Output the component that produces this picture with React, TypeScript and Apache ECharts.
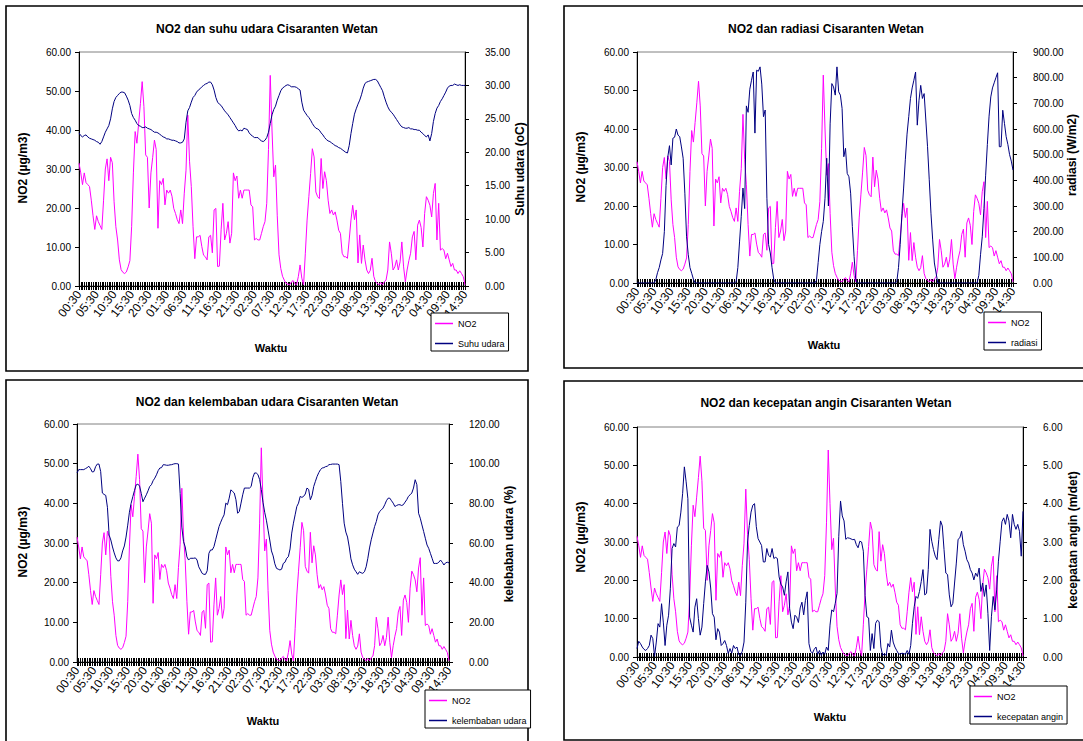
import React, { useEffect, useRef } from "react";
import * as echarts from "echarts";

const FONT = "'Liberation Sans', Arial, Helvetica, sans-serif";

// ---- categories: half-hourly readings starting 00:30 ----
const START_MINUTE = 30;
const STEP_MINUTES = 30;
const N_POINTS = 221;
const TIME_CATEGORIES: string[] = Array.from({ length: N_POINTS }, (_, i) => {
  const m = START_MINUTE + STEP_MINUTES * i;
  const hh = Math.floor(m / 60) % 24;
  const mm = m % 60;
  return `${String(hh).padStart(2, "0")}:${String(mm).padStart(2, "0")}`;
});
const X_LABEL_INTERVAL = 9; // a label every 5 hours

// ---- series values ----
const NO2 = [
  31.5, 29, 26, 29, 26.5, 26, 25.5, 22, 18, 14.5,
  18, 16.5, 15.5, 14.5, 22, 30, 32.6, 27, 33, 31.6,
  21.6, 15.2, 11.8, 6.7, 4.2, 3.5, 3.2, 3.6, 4.9, 6.5,
  15.2, 29, 39.6, 36.6, 41.7, 46.8, 52.4, 46, 33.6, 33,
  20, 29, 33, 37.4, 35, 14.8, 27, 26, 27.6, 20.8,
  24.6, 23.8, 24.6, 23, 19.9, 18.6, 17, 16, 19.5, 16,
  23.8, 29.7, 43.8, 32, 25.5, 15.2, 7, 12.6, 12.6, 13,
  10.1, 7.9, 7.5, 6.7, 12.6, 13, 8.5, 19.5, 19.9, 5,
  5.1, 14.4, 21.2, 11.8, 13.5, 16.5, 11, 13.5, 29, 27,
  28.2, 22.5, 24.6, 22.5, 24.6, 24.6, 24.6, 24.6, 20.8, 20.3,
  11.8, 12.2, 11.8, 11.8, 13.5, 15.2, 16.5, 21.2, 35, 54,
  40, 28, 31, 18, 8, 4.5, 2.5, 1.5, 0.7, 0.5,
  0.3, 1, 1.4, 0.6, 0.3, 2.4, 5.4, 2, 0.3, 8.4,
  16.9, 22.9, 28.8, 35.2, 33.1, 24.1, 22.9, 22.4, 32.7, 25,
  29.3, 27, 22, 18.6, 19.5, 18.2, 19, 16.9, 14.3, 13.5,
  8.4, 7.5, 7.5, 7.1, 11.8, 16.9, 20.7, 17, 19.5, 5.9,
  13.1, 5.8, 10.5, 6.7, 4.1, 3.2, 4, 7.1, 2.5, 1.1,
  0.7, 0.3, 0.9, 0.3, 1.1, 1.5, 4.1, 11.3, 8.4, 4.1,
  4.9, 6.7, 4.1, 6.2, 11.3, 4.9, 1.1, 4.1, 6.5, 8.4,
  12.6, 14, 6.7, 15.6, 16.9, 15, 10, 18.6, 22.9, 22,
  20.7, 17.7, 23.7, 26.3, 11.8, 21.2, 9.2, 9.6, 9.2, 7,
  8.4, 6.7, 5, 5.8, 4.1, 4.1, 3.2, 3.9, 3.2, 2.4,
  0.3,
];

const SUHU_UDARA = [
  22.9, 22.5, 22.3, 22.5, 22.6, 22.3, 22.1, 22, 21.9, 21.8,
  21.6, 21.5, 21.2, 21.6, 22.3, 23, 23.5, 24, 25, 26.5,
  27.6, 28.2, 28.5, 28.8, 29, 29, 28.9, 28.4, 27.8, 27,
  25.8, 25.2, 24.8, 24.3, 24, 23.9, 23.7, 23.7, 23.8, 23.6,
  23.5, 23.4, 23.2, 23, 23, 22.9, 22.7, 22.5, 22.3, 22.2,
  22, 22, 21.9, 21.8, 21.8, 21.7, 21.6, 21.4, 21.4, 21.5,
  22, 24.5, 26.2, 26.7, 27.5, 28.2, 28.5, 29, 29.3, 29.5,
  29.8, 30, 30.2, 30.3, 30.5, 30.5, 30.1, 29.3, 28.2, 27.5,
  27.2, 27, 26.6, 26.2, 25.9, 25.6, 25.2, 24.8, 24.4, 24,
  23.5, 23.2, 23.3, 23.2, 23.6, 23.5, 23.4, 22.9, 22.6, 22.4,
  22.2, 22.2, 22.2, 21.9, 21.7, 21.6, 21.8, 22.2, 23, 24.3,
  25.6, 26.4, 26.9, 27.8, 28.5, 29.2, 29.6, 29.8, 30, 30.1,
  30, 29.8, 29.8, 29.8, 29.7, 29.5, 29.3, 27.5, 26.3, 25.9,
  25.5, 25.2, 24.8, 24.3, 23.9, 23.6, 23.5, 23.3, 22.9, 22.6,
  22.2, 21.9, 21.7, 21.6, 21.4, 21.2, 21, 20.9, 20.7, 20.6,
  20.4, 20.2, 20, 19.9, 21, 22.8, 24.3, 25.7, 26.5, 27.2,
  27.8, 28.6, 29.6, 30.3, 30.5, 30.6, 30.7, 30.8, 30.9, 30.9,
  30.7, 30.2, 29.7, 29.2, 28.3, 27.5, 26.8, 26.3, 26, 25.7,
  25.3, 24.9, 24.5, 24.1, 23.8, 23.7, 23.6, 23.6, 23.7, 23.5,
  23.5, 23.4, 23.4, 23.3, 23.3, 23, 22.8, 22.5, 22.3, 22.6,
  21.7, 22.8, 24.6, 25.8, 26.6, 27, 27.6, 28, 28.5, 29,
  29.6, 29.9, 30, 30, 30.2, 30.1, 30, 30.1, 30, 30,
  30,
];

const RADIASI = [
  0, 0, 0, 0, 0, 0, 0, 0, 0, 0,
  0, 13, 40, 60, 90, 115, 200, 380, 490, 535,
  460, 564, 568, 600, 576, 570, 530, 486, 350, 180,
  110, 60, 38, 15, 0, 0, 0, 0, 0, 0,
  0, 0, 0, 0, 0, 0, 0, 0, 0, 0,
  0, 0, 0, 0, 0, 0, 0, 0, 5, 60,
  160, 260, 370, 290, 690, 665, 755, 790, 822, 584,
  829, 825, 842, 775, 648, 674, 330, 150, 117, 60,
  15, 0, 0, 0, 0, 0, 0, 0, 0, 0,
  0, 0, 0, 0, 0, 0, 0, 0, 0, 0,
  0, 0, 0, 0, 0, 10, 80, 150, 200, 240,
  330, 486, 300, 620, 777, 764, 732, 842, 745, 732,
  680, 492, 525, 427, 414, 350, 220, 104, 13, 0,
  0, 0, 0, 0, 0, 0, 0, 0, 0, 0,
  0, 0, 0, 0, 0, 0, 0, 0, 0, 0,
  0, 0, 5, 60, 150, 270, 370, 480, 580, 648,
  719, 760, 790, 822, 615, 712, 770, 719, 738, 635,
  531, 402, 272, 168, 78, 39, 0, 0, 0, 0,
  0, 0, 0, 0, 0, 0, 0, 0, 0, 0,
  0, 0, 0, 0, 0, 0, 0, 0, 0, 0,
  30, 110, 180, 290, 420, 540, 650, 725, 760, 780,
  800, 819, 531, 531, 673, 622, 570, 540, 500, 475,
  440,
];

const KELEMBABAN_UDARA = [
  95.3, 97, 97, 97, 97, 97.5, 98, 98.7, 97.5, 95.8,
  96, 98.5, 99.8, 99.8, 96, 85.2, 84.5, 84, 78, 64,
  61.5, 58, 55, 52.5, 51, 51, 52.5, 56, 58.5, 63,
  69, 75.5, 80, 83.3, 86.5, 89.3, 89.7, 88.7, 85, 80.8,
  82.6, 84.3, 86.3, 88.5, 89.4, 91.4, 92.7, 94.4, 96.5, 97.8,
  98, 99.5, 99.4, 99.2, 99.2, 99.4, 99.5, 99.8, 100, 100,
  99.8, 85, 68, 60.7, 58, 53, 51.4, 52.3, 52.3, 52.3,
  52.5, 51.4, 48, 46.4, 44.7, 44.2, 44.2, 46, 54.8, 56.5,
  56.5, 58.2, 61.6, 65, 68.3, 70.5, 72.5, 74.2, 80.1, 79.3,
  82.6, 86.8, 86, 85.2, 81.8, 75, 75.9, 80.1, 84.3, 87.7,
  87.7, 87.7, 87.7, 88.5, 93, 95.3, 95.3, 94.5, 92, 87,
  80.5, 75.5, 71.5, 66.5, 61.5, 56, 53.5, 49.5, 47.2, 46.8,
  46.4, 46.8, 49.7, 50.3, 52.3, 53.1, 57, 65, 70, 74.2,
  78.4, 80.1, 83.5, 83, 83.5, 84.7, 87.7, 87, 81.8, 84,
  88.5, 91.1, 93.6, 95.5, 97, 97.8, 98, 98.5, 98.7, 99.5,
  99.6, 99.8, 99.8, 99.8, 99.8, 99.5, 91, 80, 70, 65.5,
  63, 58, 52, 49, 46.8, 45.5, 44.2, 45.5, 45, 44.7,
  45.5, 48, 52.3, 57.5, 61.6, 65, 68.3, 70.8, 74.2, 75.9,
  76.7, 77.6, 79.3, 81.3, 82.6, 82.6, 81.3, 80.1, 78.4, 78.9,
  79.3, 79.3, 78.9, 79.3, 80.6, 81.8, 83.5, 84.3, 85.2, 87.7,
  91.9, 89.4, 75, 72.5, 69.1, 65.8, 62.4, 59, 57.3, 54.8,
  52.3, 49.7, 49.7, 49.7, 50.3, 51.4, 50.3, 48.9, 50, 50.3,
  50,
];

const KECEPATAN_ANGIN = [
  0.22, 0.41, 0.35, 0.26, 0.2, 0.17, 0.22, 0.3, 0.57, 0.48,
  0.02, 0.39, 0.87, 0.78, 1.39, 0.91, 0.3, 0.83, 1.09, 1.78,
  2.83, 2.96, 2.87, 3.39, 3.43, 3.78, 4.26, 4.96, 4.57, 4.13,
  1.04, 0.83, 0.65, 1.3, 1.52, 1.0, 0.57, 0.78, 1.39, 1.96,
  2.39, 2.22, 1.8, 1.13, 1.04, 0.45, 0.74, 0.65, 0.3, 0.35,
  0.43, 0.3, 0.09, 0.22, 0.1, 0.3, 0.22, 0.26, 0.06, 0.04,
  0.15, 0.39, 1.43, 3.0, 3.43, 3.78, 3.96, 4.0, 3.4, 3.09,
  3.0, 2.91, 2.48, 2.48, 2.83, 2.65, 2.61, 2.83, 2.57, 2.6,
  2.57, 2.09, 1.9, 1.83, 1.61, 1.96, 2.22, 1.26, 0.91, 0.74,
  1.09, 1.04, 0.9, 1.28, 1.43, 1.1, 1.48, 1.7, 0.35, 0.15,
  0.1, 0.2, 0.26, 0.07, 0.17, 0.04, 0.13, 0.07, 0.26, 0.17,
  0.83, 1.23, 1.18, 1.4, 1.66, 3.15, 4.07, 3.68, 3.55, 3.07,
  3.11, 3.1, 3.08, 3.06, 3.07, 2.93, 2.85, 3.02, 3.0, 2.76,
  1.6, 1.05, 1.02, 0.17, 0.61, 0.22, 0.88, 0.96, 0.92, 0.26,
  0.04, 0.09, 0.04, 0.35, 0.26, 0.7, 0.39, 0.26, 0.17, 0.09,
  0.07, 0.1, 0.09, 0.07, 0.17, 0.07, 0.3, 0.88, 1.31, 1.58,
  1.53, 1.71, 1.97, 2.28, 1.62, 1.66, 2.28, 3.33, 3.02, 2.8,
  2.63, 2.54, 3.07, 3.55, 3.42, 2.8, 2.19, 2.15, 1.62, 1.31,
  1.4, 1.93, 2.45, 3.07, 3.11, 3.28, 2.93, 2.76, 2.54, 2.45,
  2.28, 2.19, 2.01, 2.19, 2.1, 2.32, 1.71, 1.93, 1.58, 1.88,
  1.14, 0.17, 1.05, 1.58, 1.23, 1.75, 2.5, 3.02, 3.53, 3.63,
  3.46, 3.72, 3.55, 3.11, 3.72, 3.46, 3.33, 3.46, 3.28, 2.63,
  3.8,
];

// ---- axis scales ----
const NO2_AXIS = { min: 0, max: 60, interval: 10 };
const SUHU_AXIS = { min: 0, max: 35, interval: 5 };
const RADIASI_AXIS = { min: 0, max: 900, interval: 100 };
const KELEMBABAN_AXIS = { min: 0, max: 120, interval: 20 };
const ANGIN_AXIS = { min: 0, max: 6, interval: 1 };

const NO2_NAME = "NO2";
const LEFT_TITLE = "NO2 (µg/m3)";
const X_TITLE = "Waktu";

const NO2_COLOR = "#FF00FF";
const OTHER_COLOR = "#000080";

type Panel = {
  title: string;
  seriesName: string;
  rightTitle: string;
  data: number[];
  rightAxis: { min: number; max: number; interval: number };
  box: [number, number, number, number];
  plot: [number, number, number, number];
  titlePos: [number, number];
  leftTitlePos: [number, number];
  rightTitlePos: [number, number];
  waktuPos: [number, number];
  legendPos: [number, number];
};

const PANELS: Panel[] = [
  {
    title: "NO2 dan suhu udara Cisaranten Wetan",
    seriesName: "Suhu udara",
    rightTitle: "Suhu udara (oC)",
    data: SUHU_UDARA,
    rightAxis: SUHU_AXIS,
    box: [6, 6, 528, 371],
    plot: [79, 52, 465, 286],
    titlePos: [267, 29],
    leftTitlePos: [23, 168],
    rightTitlePos: [520, 169],
    waktuPos: [271, 348],
    legendPos: [431, 313],
  },
  {
    title: "NO2 dan radiasi Cisaranten Wetan",
    seriesName: "radiasi",
    rightTitle: "radiasi (W/m2)",
    data: RADIASI,
    rightAxis: RADIASI_AXIS,
    box: [564, 6, 1092, 368],
    plot: [637, 52, 1013, 283],
    titlePos: [826, 29],
    leftTitlePos: [581, 167],
    rightTitlePos: [1072, 155],
    waktuPos: [824, 345],
    legendPos: [984, 312],
  },
  {
    title: "NO2 dan kelembaban udara Cisaranten Wetan",
    seriesName: "kelembaban udara",
    rightTitle: "kelebaban udara (%)",
    data: KELEMBABAN_UDARA,
    rightAxis: KELEMBABAN_AXIS,
    box: [6, 380, 528, 748],
    plot: [77, 424, 449, 662],
    titlePos: [267, 402],
    leftTitlePos: [23, 542],
    rightTitlePos: [509, 544],
    waktuPos: [263, 721],
    legendPos: [425, 690],
  },
  {
    title: "NO2 dan kecepatan angin Cisaranten Wetan",
    seriesName: "kecepatan angin",
    rightTitle: "kecepatan angin (m/det)",
    data: KECEPATAN_ANGIN,
    rightAxis: ANGIN_AXIS,
    box: [564, 381, 1092, 740],
    plot: [637, 427, 1023, 657],
    titlePos: [826, 403],
    leftTitlePos: [581, 537],
    rightTitlePos: [1073, 540],
    waktuPos: [830, 717],
    legendPos: [970, 686],
  },
];

function buildOption() {
  const grid: any[] = [];
  const xAxis: any[] = [];
  const yAxis: any[] = [];
  const series: any[] = [];
  const legend: any[] = [];
  const graphic: any[] = [];

  PANELS.forEach((p, k) => {
    const [l, t, r, b] = p.plot;
    grid.push({
      left: l,
      top: t,
      width: r - l,
      height: b - t,
      show: true,
      borderColor: "#808080",
      borderWidth: 1,
      backgroundColor: "transparent",
      containLabel: false,
      outerBoundsMode: "none",
    });

    xAxis.push({
      type: "category",
      gridIndex: k,
      position: "bottom",
      data: TIME_CATEGORIES,
      boundaryGap: false,
      axisLine: { show: true, onZero: false, lineStyle: { color: "#000", width: 1 } },
      axisTick: { show: true, interval: 0, length: 4, lineStyle: { color: "#000", width: 1 } },
      axisLabel: {
        interval: X_LABEL_INTERVAL,
        rotate: 52,
        fontSize: 12,
        fontFamily: FONT,
        color: "#000",
        margin: 6,
      },
      splitLine: { show: false },
    });
    xAxis.push({
      type: "category",
      gridIndex: k,
      position: "bottom",
      offset: 0,
      data: TIME_CATEGORIES,
      boundaryGap: false,
      axisLine: { show: false },
      axisTick: { show: true, inside: true, interval: 0, length: 4, lineStyle: { color: "#000", width: 1 } },
      axisLabel: { show: false },
      splitLine: { show: false },
    });

    const fmt = (v: number) => v.toFixed(2);
    yAxis.push({
      type: "value",
      gridIndex: k,
      position: "left",
      min: NO2_AXIS.min,
      max: NO2_AXIS.max,
      interval: NO2_AXIS.interval,
      axisLine: { show: true, lineStyle: { color: "#000", width: 1 } },
      axisTick: { show: true, length: 4, lineStyle: { color: "#000" } },
      axisLabel: { formatter: fmt, fontSize: 10, fontFamily: FONT, color: "#000", margin: 8 },
      splitLine: { show: false },
    });
    yAxis.push({
      type: "value",
      gridIndex: k,
      position: "right",
      min: p.rightAxis.min,
      max: p.rightAxis.max,
      interval: p.rightAxis.interval,
      axisLine: { show: true, lineStyle: { color: "#000", width: 1 } },
      axisTick: { show: true, length: 4, lineStyle: { color: "#000" } },
      axisLabel: { formatter: fmt, fontSize: 10, fontFamily: FONT, color: "#000", margin: 20 },
      splitLine: { show: false },
    });

    series.push({
      type: "line",
      name: NO2_NAME,
      xAxisIndex: 2 * k,
      yAxisIndex: 2 * k,
      data: NO2,
      symbol: "none",
      showSymbol: false,
      lineStyle: { color: NO2_COLOR, width: 1 },
      itemStyle: { color: NO2_COLOR },
      emphasis: { disabled: true },
    });
    series.push({
      type: "line",
      name: p.seriesName,
      xAxisIndex: 2 * k,
      yAxisIndex: 2 * k + 1,
      data: p.data,
      symbol: "none",
      showSymbol: false,
      lineStyle: { color: OTHER_COLOR, width: 1 },
      itemStyle: { color: OTHER_COLOR },
      emphasis: { disabled: true },
    });

    legend.push({
      orient: "vertical",
      left: p.legendPos[0],
      top: p.legendPos[1],
      data: [NO2_NAME, p.seriesName],
      icon: "rect",
      itemWidth: 18,
      itemHeight: 1.5,
      itemGap: 11,
      itemTextGap: 4,
      padding: [6, 4, 3, 4],
      borderColor: "#000",
      borderWidth: 1,
      backgroundColor: "#fff",
      selectedMode: false,
      z: 10,
      textStyle: { fontSize: 9, fontFamily: FONT, color: "#000" },
    });

    const [bx1, by1, bx2, by2] = p.box;
    graphic.push({
      type: "rect",
      shape: { x: bx1, y: by1, width: bx2 - bx1, height: by2 - by1 },
      style: { fill: "none", stroke: "#000", lineWidth: 1.6 },
      z: 0,
      silent: true,
    });
    const textEl = (x: number, y: number, text: string, font: string, rot = 0) => ({
      type: "text",
      x,
      y,
      rotation: rot,
      style: { text, font, fill: "#000", textAlign: "center", textVerticalAlign: "middle" },
    });
    graphic.push(textEl(p.titlePos[0], p.titlePos[1], p.title, `bold 12px ${FONT}`));
    graphic.push(textEl(p.leftTitlePos[0], p.leftTitlePos[1], LEFT_TITLE, `bold 12px ${FONT}`, Math.PI / 2));
    graphic.push(textEl(p.rightTitlePos[0], p.rightTitlePos[1], p.rightTitle, `bold 12px ${FONT}`, Math.PI / 2));
    graphic.push(textEl(p.waktuPos[0], p.waktuPos[1], X_TITLE, `bold 11px ${FONT}`));
  });

  return {
    animation: false,
    backgroundColor: "#fff",
    textStyle: { fontFamily: FONT },
    grid,
    xAxis,
    yAxis,
    series,
    legend,
    graphic,
    tooltip: { show: false },
  };
}

export default function App() {
  const ref = useRef<HTMLDivElement | null>(null);

  useEffect(() => {
    document.body.style.margin = "0";
    document.body.style.padding = "0";
    if (!ref.current) return;
    const chart = echarts.init(ref.current, undefined, { renderer: "svg" });
    chart.setOption(buildOption() as any);
    return () => {
      chart.dispose();
    };
  }, []);

  return (
    <div
      ref={ref}
      style={{
        position: "relative",
        width: 1083,
        height: 741,
        background: "#fff",
        overflow: "hidden",
      }}
    />
  );
}
